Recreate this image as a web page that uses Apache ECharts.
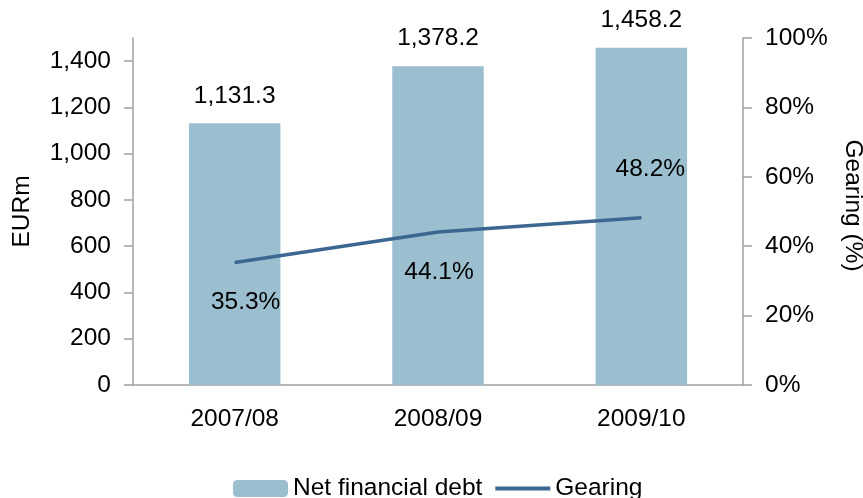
<!DOCTYPE html>
<html>
<head>
<meta charset="utf-8">
<title>Net financial debt / Gearing</title>
<script src="https://cdn.jsdelivr.net/npm/echarts@6/dist/echarts.min.js"></script>
<style>
  html, body { margin: 0; padding: 0; background: #fff; }
  #chartDom { width: 863px; height: 498px; }
</style>
</head>
<body>
<div id="chartDom"></div>
<script>
//--------------------------------------------------------------------------
//データ定義
//--------------------------------------------------------------------------
const categories = ['2007/08', '2008/09', '2009/10']
const netDebt = [1131.3, 1378.2, 1458.2]
const gearing = [35.3, 44.1, 48.2]
const leftTicks = [0, 200, 400, 600, 800, 1000, 1200, 1400]
//ラベル位置 (点からのずれ)
const gearingLabelOffset = [[11, 40], [1, 40], [9, -48]]

const fontFamily = '"Liberation Sans", Arial, sans-serif'
const fontSize = 24.5
const axisColor = '#a0a0a0'
const lineColor = '#3b6790'

function fmtNum(v) {
  return v.toLocaleString('en-US')
}

//--------------------------------------------------------------------------
//グラフ
//--------------------------------------------------------------------------
const myChart = echarts.init(document.getElementById('chartDom'))

const option = {
  animation: false,
  textStyle: { fontFamily: fontFamily, color: '#000' },
  grid: { left: 133, right: 120, top: 38, bottom: 113, outerBoundsMode: 'none' },
  legend: {
    left: 233,
    top: 476,
    padding: 0,
    itemWidth: 55,
    itemHeight: 17,
    itemGap: 11,
    textStyle: { fontSize: fontSize, color: '#000', fontFamily: fontFamily },
    data: [
      { name: 'Net financial debt' },
      //凡例の点を消す
      { name: 'Gearing', itemStyle: { opacity: 0 }, lineStyle: { width: 4 } }
    ]
  },
  xAxis: {
    type: 'category',
    data: categories,
    axisLine: { lineStyle: { color: axisColor, width: 1.5 } },
    axisTick: { length: 9, lineStyle: { color: axisColor, width: 1.5 } },
    axisLabel: { fontSize: fontSize, color: '#000', margin: 22 }
  },
  yAxis: [
    {
      type: 'value',
      min: 0,
      max: 1500,
      name: 'EURm',
      nameLocation: 'middle',
      nameGap: 98,
      nameTextStyle: { fontSize: fontSize, color: '#000' },
      splitLine: { show: false },
      axisLine: { show: true, lineStyle: { color: axisColor, width: 1.5 } },
      axisTick: { show: true, length: 9, customValues: leftTicks, lineStyle: { color: axisColor, width: 1.5 } },
      axisLabel: {
        fontSize: fontSize,
        color: '#000',
        margin: 22,
        customValues: leftTicks,
        formatter: (v) => fmtNum(v)
      }
    },
    {
      type: 'value',
      min: 0,
      max: 100,
      interval: 20,
      position: 'right',
      name: 'Gearing (%)',
      nameLocation: 'middle',
      nameRotate: -90,
      nameGap: 97,
      nameTextStyle: { fontSize: fontSize, color: '#000', padding: [0, 12, 0, 0] },
      splitLine: { show: false },
      axisLine: { show: true, lineStyle: { color: axisColor, width: 1.5 } },
      axisTick: { show: true, length: 9, lineStyle: { color: axisColor, width: 1.5 } },
      axisLabel: { fontSize: fontSize, color: '#000', margin: 22, formatter: '{value}%' }
    }
  ],
  series: [
    {
      name: 'Net financial debt',
      type: 'bar',
      data: netDebt,
      barWidth: '45%',
      itemStyle: { color: '#9bbfcf' },
      label: {
        show: true,
        position: 'top',
        distance: 15,
        fontSize: fontSize,
        color: '#000',
        formatter: (p) => fmtNum(p.value)
      }
    },
    {
      name: 'Gearing',
      type: 'line',
      yAxisIndex: 1,
      symbol: 'circle',
      symbolSize: 1,
      showSymbol: true,
      lineStyle: { color: lineColor, width: 3.5 },
      itemStyle: { color: lineColor },
      data: gearing.map((v, i) => ({
        value: v,
        label: {
          show: true,
          position: 'inside',
          offset: gearingLabelOffset[i],
          fontSize: fontSize,
          color: '#000',
          formatter: (p) => p.value.toFixed(1) + '%'
        }
      }))
    }
  ]
}

myChart.setOption(option)
</script>
</body>
</html>
